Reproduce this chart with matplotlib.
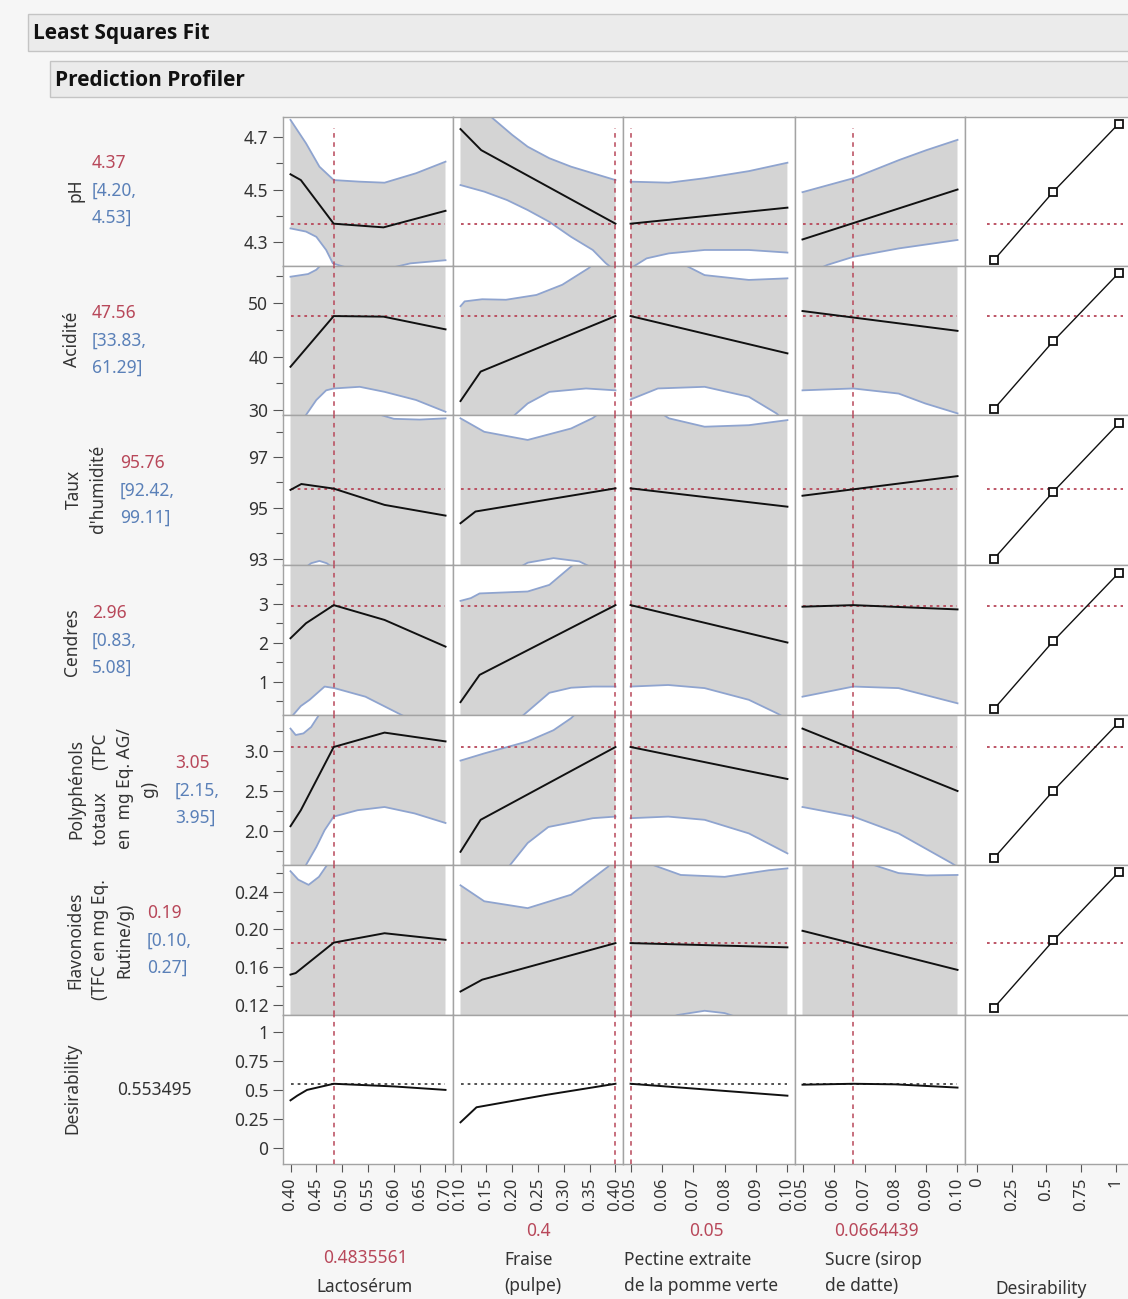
import matplotlib.pyplot as plt
from matplotlib.patches import Rectangle
import numpy as np

plt.rcParams['font.family'] = ['Noto Sans', 'DejaVu Sans']

W, H = 1128, 1299

# ---- factors (columns) ----
factor_names = ['Lactosérum', 'Fraise\n(pulpe)', 'Pectine extraite\nde la pomme verte', 'Sucre (sirop\nde datte)']
factor_lo = [0.40, 0.10, 0.05, 0.05]
factor_hi = [0.70, 0.40, 0.10, 0.10]
factor_now = [0.4835561, 0.4, 0.05, 0.0664439]
factor_now_text = ['0.4835561', '0.4', '0.05', '0.0664439']
factor_ticks = [[0.40, 0.45, 0.50, 0.55, 0.60, 0.65, 0.70],
                [0.10, 0.15, 0.20, 0.25, 0.30, 0.35, 0.40],
                [0.05, 0.06, 0.07, 0.08, 0.09, 0.10],
                [0.05, 0.06, 0.07, 0.08, 0.09, 0.10]]
des_ticks = [0, 0.25, 0.5, 0.75, 1]
des_tick_labels = ['0', '0.25', '0.5', '0.75', '1']

# ---- responses (rows) ----
response_names = ['pH', 'Acidité', "Taux\nd'humidité", 'Cendres',
                  'Polyphénols\ntotaux     (TPC\nen  mg Eq. AG/\ng)',
                  'Flavonoides\n(TFC en mg Eq.\nRutine/g)']
response_pred = [4.37, 47.56, 95.76, 2.96, 3.05, 0.186]
response_pred_text = ['4.37', '47.56', '95.76', '2.96', '3.05', '0.19']
response_ci_text = [('4.20', '4.53'), ('33.83', '61.29'), ('92.42', '99.11'),
                    ('0.83', '5.08'), ('2.15', '3.95'), ('0.10', '0.27')]
response_ylim = [(4.209, 4.776), (29.1, 56.9), (92.76, 98.65),
                 (0.15, 4.0), (1.575, 3.45), (0.109, 0.2686)]
response_major = [[4.3, 4.5, 4.7], [30, 40, 50], [93, 95, 97], [1, 2, 3],
                  [2.0, 2.5, 3.0], [0.12, 0.16, 0.20, 0.24]]
response_major_labels = [['4.3', '4.5', '4.7'], ['30', '40', '50'], ['93', '95', '97'],
                         ['1', '2', '3'], ['2.0', '2.5', '3.0'],
                         ['0.12', '0.16', '0.20', '0.24']]
response_minor = [[4.4, 4.6], [35, 45, 55], [94, 96, 98], [0.5, 1.5, 2.5, 3.5],
                  [1.75, 2.25, 2.75, 3.25], [0.14, 0.18, 0.22, 0.26]]

# prediction traces: (x, y) per factor
ph_line = [([0.40, 0.42, 0.4836, 0.58, 0.70], [4.558, 4.536, 4.37, 4.356, 4.419]),
           ([0.10, 0.14, 0.40], [4.73, 4.65, 4.37]),
           ([0.05, 0.10], [4.37, 4.431]),
           ([0.05, 0.10], [4.31, 4.50])]
acid_line = [([0.40, 0.4836, 0.58, 0.70], [38.1, 47.56, 47.45, 45.08]),
             ([0.10, 0.139, 0.40], [31.7, 37.2, 47.56]),
             ([0.05, 0.10], [47.56, 40.6]),
             ([0.05, 0.10], [48.5, 44.8])]
hum_line = [([0.40, 0.421, 0.4836, 0.582, 0.70], [95.71, 95.94, 95.76, 95.12, 94.70]),
            ([0.10, 0.129, 0.40], [94.4, 94.86, 95.77]),
            ([0.05, 0.10], [95.77, 95.05]),
            ([0.05, 0.10], [95.48, 96.25])]
cend_line = [([0.40, 0.43, 0.4836, 0.582, 0.70], [2.12, 2.505, 2.97, 2.59, 1.905]),
             ([0.10, 0.137, 0.40], [0.48, 1.18, 2.97]),
             ([0.05, 0.10], [2.97, 2.01]),
             ([0.05, 0.0664, 0.10], [2.93, 2.97, 2.86])]
poly_line = [([0.40, 0.42, 0.4836, 0.582, 0.70], [2.06, 2.26, 3.05, 3.23, 3.12]),
             ([0.10, 0.139, 0.40], [1.74, 2.14, 3.05]),
             ([0.05, 0.10], [3.05, 2.65]),
             ([0.05, 0.10], [3.28, 2.50])]
flav_line = [([0.40, 0.41, 0.4836, 0.582, 0.70], [0.152, 0.1536, 0.186, 0.196, 0.189]),
             ([0.10, 0.142, 0.40], [0.134, 0.1466, 0.1855]),
             ([0.05, 0.10], [0.1855, 0.181]),
             ([0.05, 0.10], [0.1986, 0.157])]
desir_line = [([0.40, 0.413, 0.432, 0.4836, 0.55, 0.60, 0.70], [0.41, 0.45, 0.50, 0.553, 0.54, 0.53, 0.50]),
              ([0.10, 0.131, 0.266, 0.40], [0.22, 0.35, 0.457, 0.553]),
              ([0.05, 0.10], [0.553, 0.45]),
              ([0.05, 0.0664, 0.08, 0.10], [0.545, 0.553, 0.548, 0.52])]

# confidence bands: (x upper, upper, x lower, lower) per factor
ph_band = [([0.40, 0.43, 0.456, 0.4836, 0.533, 0.582, 0.643, 0.70], [4.765, 4.676, 4.587, 4.536, 4.53, 4.526, 4.562, 4.606],
            [0.40, 0.43, 0.45, 0.469, 0.482, 0.53, 0.58, 0.632, 0.70], [4.352, 4.34, 4.32, 4.27, 4.219, 4.19, 4.195, 4.219, 4.231]),
           ([0.10, 0.13, 0.163, 0.20, 0.23, 0.272, 0.314, 0.356, 0.40], [4.90, 4.83, 4.77, 4.708, 4.663, 4.619, 4.587, 4.562, 4.536],
            [0.10, 0.146, 0.19, 0.23, 0.272, 0.314, 0.356, 0.381, 0.40], [4.517, 4.492, 4.46, 4.422, 4.377, 4.32, 4.27, 4.22, 4.19]),
           ([0.05, 0.0622, 0.0736, 0.0877, 0.10], [4.53, 4.526, 4.543, 4.57, 4.602],
            [0.05, 0.0551, 0.0622, 0.0736, 0.0877, 0.10], [4.20, 4.238, 4.257, 4.27, 4.27, 4.26]),
           ([0.05, 0.0664, 0.0811, 0.09, 0.10], [4.49, 4.543, 4.612, 4.65, 4.689],
            [0.05, 0.058, 0.0664, 0.0811, 0.10], [4.17, 4.213, 4.244, 4.276, 4.308])]
acid_band = [([0.40, 0.434, 0.45, 0.456, 0.50, 0.60, 0.70], [54.9, 55.4, 56.2, 56.8, 59, 60, 59],
              [0.40, 0.43, 0.45, 0.469, 0.4836, 0.534, 0.582, 0.643, 0.70], [25, 29.1, 31.9, 33.7, 34.05, 34.36, 33.42, 31.9, 29.7]),
             ([0.10, 0.108, 0.142, 0.188, 0.247, 0.297, 0.348, 0.40], [49.4, 50.3, 50.7, 50.6, 51.5, 53.4, 56.5, 61],
              [0.10, 0.15, 0.205, 0.23, 0.272, 0.343, 0.40], [18, 24, 29.1, 31.25, 33.42, 34.05, 33.7]),
             ([0.05, 0.06, 0.0679, 0.0736, 0.0877, 0.10], [59.5, 58.0, 56.9, 55.2, 54.3, 54.6],
              [0.05, 0.0587, 0.0736, 0.0877, 0.0965, 0.10], [32.0, 34.05, 34.36, 32.5, 29.4, 27.5]),
             ([0.05, 0.10], [63, 60],
              [0.05, 0.0664, 0.081, 0.0896, 0.10], [33.7, 34.05, 33.1, 31.25, 29.4])]
hum_band = [([0.40, 0.50, 0.575, 0.60, 0.65, 0.70], [100.5, 99.5, 98.65, 98.5, 98.47, 98.52],
             [0.40, 0.425, 0.44, 0.456, 0.47, 0.50, 0.70], [92.0, 92.6, 92.83, 92.92, 92.83, 92.4, 91.5]),
            ([0.10, 0.146, 0.23, 0.314, 0.356, 0.40], [98.52, 97.99, 97.67, 98.12, 98.53, 99.2],
             [0.10, 0.20, 0.23, 0.28, 0.33, 0.37, 0.40], [91, 92.5, 92.85, 93.03, 92.9, 92.5, 92.0]),
            ([0.05, 0.06, 0.0622, 0.0736, 0.0877, 0.10], [99.5, 98.7, 98.52, 98.19, 98.25, 98.45],
             [0.05, 0.10], [91.8, 91.8]),
            ([0.05, 0.10], [99.5, 99.8],
             [0.05, 0.10], [92.0, 91.8])]
cend_band = [([0.40, 0.70], [4.5, 4.5],
              [0.40, 0.405, 0.42, 0.437, 0.466, 0.485, 0.545, 0.615, 0.70], [-0.1, 0.15, 0.38, 0.54, 0.88, 0.84, 0.62, 0.15, -0.4]),
             ([0.10, 0.12, 0.137, 0.23, 0.272, 0.314, 0.36, 0.40], [3.08, 3.15, 3.27, 3.32, 3.49, 3.96, 4.5, 5.0],
              [0.10, 0.20, 0.222, 0.272, 0.314, 0.356, 0.40], [-1.0, -0.1, 0.15, 0.72, 0.85, 0.88, 0.88]),
             ([0.05, 0.10], [4.5, 4.5],
              [0.05, 0.062, 0.0736, 0.0877, 0.0965, 0.10], [0.88, 0.92, 0.84, 0.54, 0.2, 0.05]),
             ([0.05, 0.10], [4.8, 4.8],
              [0.05, 0.0664, 0.081, 0.10], [0.62, 0.88, 0.84, 0.45])]
poly_band = [([0.40, 0.41, 0.425, 0.44, 0.455, 0.47, 0.55, 0.70], [3.28, 3.2, 3.22, 3.3, 3.45, 3.6, 4.0, 4.0],
              [0.40, 0.43, 0.45, 0.466, 0.4836, 0.53, 0.582, 0.64, 0.70], [1.0, 1.575, 1.80, 2.01, 2.18, 2.26, 2.30, 2.22, 2.10]),
             ([0.10, 0.146, 0.23, 0.28, 0.314, 0.36, 0.40], [2.88, 2.97, 3.12, 3.26, 3.41, 3.7, 4.0],
              [0.10, 0.15, 0.196, 0.23, 0.27, 0.356, 0.40], [0.6, 1.1, 1.575, 1.85, 2.05, 2.16, 2.18]),
             ([0.05, 0.10], [4.0, 4.0],
              [0.05, 0.062, 0.0736, 0.0877, 0.10], [2.16, 2.18, 2.14, 1.97, 1.72]),
             ([0.05, 0.10], [4.2, 4.0],
              [0.05, 0.0664, 0.081, 0.098, 0.10], [2.30, 2.18, 1.97, 1.6, 1.55])]
flav_band = [([0.40, 0.415, 0.435, 0.455, 0.47, 0.50, 0.70], [0.262, 0.253, 0.2475, 0.256, 0.268, 0.29, 0.32],
              [0.40, 0.70], [0.08, 0.08]),
             ([0.10, 0.146, 0.23, 0.314, 0.386, 0.40], [0.247, 0.23, 0.2227, 0.237, 0.267, 0.28],
              [0.10, 0.40], [0.08, 0.08]),
             ([0.05, 0.056, 0.066, 0.08, 0.094, 0.10], [0.29, 0.27, 0.258, 0.256, 0.263, 0.265],
              [0.05, 0.06, 0.065, 0.0736, 0.08, 0.09, 0.10], [0.09, 0.103, 0.109, 0.1135, 0.111, 0.1, 0.09]),
             ([0.05, 0.065, 0.073, 0.081, 0.09, 0.10], [0.32, 0.285, 0.2686, 0.26, 0.2575, 0.258],
              [0.05, 0.10], [0.08, 0.08])]

response_lines = [ph_line, acid_line, hum_line, cend_line, poly_line, flav_line]
response_bands = [ph_band, acid_band, hum_band, cend_band, poly_band, flav_band]

# desirability functions (right column)
des_x = [0.12, 0.55, 1.02]
des_y = [[4.231, 4.492, 4.75], [30.19, 42.9, 55.55], [93.0, 95.64, 98.32],
         [0.30, 2.05, 3.79], [1.66, 2.504, 3.354], [0.1165, 0.1883, 0.2609]]
desirability_now = 0.553495

# ---- layout (pixels) ----
col_edges = [283, 453, 623, 795, 965, 1131]
row_edges = [117, 266, 415, 565, 715, 865, 1015, 1164]
label_pos = [(75, 190), (72, 339), (86, 489), (72, 642), (113, 789), (100, 940)]
value_pos = [(92, 163), (92, 313), (120, 463), (92, 613), (175, 763), (147, 913)]

RED = '#b8485a'
BLUE = '#5a80b8'
GRAY = '#d4d4d4'
EDGE = '#8fa4cf'
TXT = '#333333'
FS = 12.5

fig = plt.figure(figsize=(W / 100, H / 100), dpi=100, facecolor='#f6f6f6')


def px_ax(x0, y0, x1, y1):
    return fig.add_axes([x0 / W, 1 - y1 / H, (x1 - x0) / W, (y1 - y0) / H])


def ftext(x, y, s, **kw):
    fig.text(x / W, 1 - y / H, s, **kw)


# header bars
for (x0, y0, y1, title) in [(28, 14, 51, 'Least Squares Fit'), (50, 61, 97, 'Prediction Profiler')]:
    fig.add_artist(Rectangle((x0 / W, 1 - y1 / H), (W + 10 - x0) / W, (y1 - y0) / H,
                             transform=fig.transFigure, facecolor='#ebebeb',
                             edgecolor='#c4c4c4', lw=1))
    ftext(x0 + 5, (y0 + y1) / 2 + 1, title, fontsize=15, fontweight='bold',
          family=['Open Sans', 'DejaVu Sans'], color='#111111', va='center', ha='left')

n_rows = 7
for r in range(n_rows):
    for c in range(5):
        ax = px_ax(col_edges[c], row_edges[r], col_edges[c + 1], row_edges[r + 1])
        ax.set_facecolor('white')
        for sp in ax.spines.values():
            sp.set_color('#a3a3a3')
            sp.set_linewidth(1)
        if c < 4:
            a, b = factor_lo[c], factor_hi[c]
            pad = 0.0484 * (b - a)
            ax.set_xlim(a - pad, b + pad)
        else:
            ax.set_xlim(-0.088, 1.11)
        if r < 6:
            ax.set_ylim(*response_ylim[r])
        else:
            ax.set_ylim(-0.14, 1.147)

        # ticks
        ax.tick_params(axis='both', which='both', colors='#555555', labelcolor=TXT,
                       labelsize=FS, direction='out')
        ax.tick_params(axis='x', labelsize=12)
        ax.tick_params(axis='y', which='major', length=7, width=0.8)
        ax.tick_params(axis='y', which='minor', length=5, width=0.8)
        ax.tick_params(axis='x', which='major', length=6, width=0.8)
        if c == 0:
            if r < 6:
                ax.set_yticks(response_major[r])
                ax.set_yticklabels(response_major_labels[r])
                ax.set_yticks(response_minor[r], minor=True)
            else:
                ax.set_yticks(des_ticks)
                ax.set_yticklabels(des_tick_labels)
        else:
            ax.set_yticks([])
        if r == n_rows - 1:
            if c < 4:
                ax.set_xticks(factor_ticks[c])
                ax.set_xticklabels(['%.2f' % t for t in factor_ticks[c]], rotation=90)
            else:
                ax.set_xticks(des_ticks)
                ax.set_xticklabels(des_tick_labels, rotation=90)
        else:
            ax.set_xticks([])

        if c < 4:
            a, b = factor_lo[c], factor_hi[c]
            if r < 6:
                xh, hi, xl, lo = response_bands[r][c]
                ax.fill(np.r_[xh, xl[::-1]], np.r_[hi, lo[::-1]], color=GRAY, lw=0, zorder=1)
                ax.plot(xh, hi, color=EDGE, lw=1.3, zorder=2)
                ax.plot(xl, lo, color=EDGE, lw=1.3, zorder=2)
                xs, ys = response_lines[r][c]
                ax.plot([a, b], [response_pred[r]] * 2, color=RED, lw=1.3,
                        ls=(0, (1.5, 2.2)), zorder=3)
            else:
                xs, ys = desir_line[c]
                ax.plot([a, b], [desirability_now] * 2, color='#444444', lw=1.3,
                        ls=(0, (1.5, 2.2)), zorder=3)
            top = 1 - 11 / 149 if r == 0 else 1
            ax.axvline(factor_now[c], ymin=0, ymax=top, color=RED, lw=1.1,
                       ls=(0, (3, 3)), zorder=3)
            ax.plot(xs, ys, color='#111111', lw=1.4, zorder=4)
        elif r < 6:
            ax.axhline(response_pred[r], xmin=0.13, xmax=0.95, color=RED, lw=1.3,
                       ls=(0, (1.5, 2.2)), zorder=3)
            ax.plot(des_x, des_y[r], color='#111111', lw=1.0, zorder=4)
            ax.plot(des_x, des_y[r], ls='none', marker='s', ms=6, mfc='white',
                    mec='#111111', mew=1.3, zorder=5, clip_on=False)

# response labels + predicted values
for r in range(6):
    lx, ly = label_pos[r]
    ftext(lx, ly, response_names[r], rotation=90, ha='center', va='center',
          multialignment='center', fontsize=FS, color=TXT, linespacing=1.45)
    vx, vy = value_pos[r]
    lo_t, hi_t = response_ci_text[r]
    ftext(vx, vy, response_pred_text[r], fontsize=FS, color=RED, va='center')
    ftext(vx, vy + 28, '[' + lo_t + ',', fontsize=FS, color=BLUE, va='center')
    ftext(vx, vy + 55, hi_t + ']', fontsize=FS, color=BLUE, va='center')

ftext(72, 1088, 'Desirability', rotation=90, ha='center', va='center', fontsize=FS, color=TXT)
ftext(117, 1090, '%.6f' % desirability_now, fontsize=FS, color=TXT, va='center')

# factor labels under the columns
ftext(365, 1258, factor_now_text[0], fontsize=FS, color=RED, ha='center', va='center')
ftext(365, 1287, factor_names[0], fontsize=FS, color=TXT, ha='center', va='center')
name_left = [None, 504, 624, 825]
now_center = [None, 538, 706, 876]
for c in range(1, 4):
    ftext(now_center[c], 1231, factor_now_text[c], fontsize=FS, color=RED, ha='center', va='center')
    ftext(name_left[c], 1273, factor_names[c], fontsize=FS, color=TXT, ha='left',
          va='center', linespacing=1.55)
ftext(1041, 1289, 'Desirability', fontsize=FS, color=TXT, ha='center', va='center')

fig.savefig('out.png', dpi=100, facecolor=fig.get_facecolor())
